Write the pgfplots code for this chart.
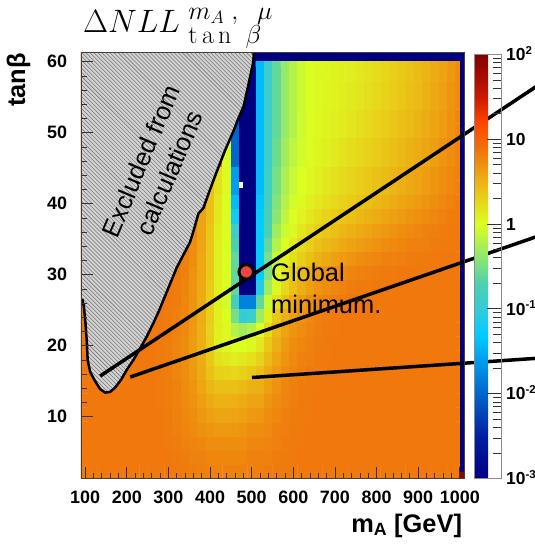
\documentclass[border=0pt]{standalone}
\usepackage{fix-cm}
\usepackage[no-math]{fontspec}
\usepackage{pgfplots}
\pgfplotsset{compat=1.18}
\usetikzlibrary{patterns.meta}
\newfontfamily\lsans{Liberation Sans}
\DeclareMathSizes{32.5}{32.5}{24}{19}
\DeclareMathSizes{26}{26}{18}{14}
\newcommand\tickfont{\lsans\bfseries\fontsize{18}{19}\selectfont}
\newcommand\cbfont{\lsans\bfseries\fontsize{17.5}{18}\selectfont}
\newcommand\cbexp[1]{10\raisebox{6.5bp}{\fontsize{11.5}{12}\selectfont#1}}
\newcommand\labfont{\lsans\bfseries\fontsize{25.5}{27}\selectfont}
\newcommand\annfont{\lsans\fontsize{25.5}{31}\selectfont}
\definecolor{navy}{rgb}{0,0,0.5}
\definecolor{dotred}{rgb}{0.93,0.27,0.25}
\definecolor{hatchgray}{rgb}{0.83,0.83,0.83}
\definecolor{cornerred}{rgb}{0.55,0.02,0.02}
\pgfplotsset{colormap={nllmap}{rgb(0pt)=(0,0,0.5); rgb(10pt)=(0,0.12,0.64); rgb(20pt)=(0,0.4,0.8); rgb(28pt)=(0,0.62,0.93); rgb(34pt)=(0,0.8,1); rgb(40pt)=(0.2,0.8,0.85); rgb(46pt)=(0.3,0.82,0.68); rgb(52pt)=(0.55,0.9,0.45); rgb(60pt)=(0.86,1,0.13); rgb(66pt)=(0.91,0.82,0.1); rgb(72pt)=(0.93,0.64,0.07); rgb(77pt)=(0.94,0.47,0.05); rgb(84pt)=(1,0.27,0); rgb(90pt)=(0.8,0.1,0); rgb(100pt)=(0.5,0,0)}}
\begin{document}
\begin{tikzpicture}
\useasboundingbox (-81bp,-70.5bp) rectangle (454bp,478.5bp);
\begin{axis}[
  scale only axis, width=383bp, height=426bp,
  xmin=90, xmax=1010, ymin=1.3, ymax=61.3,
  clip=false, axis on top,
  colormap name=nllmap, point meta min=-3, point meta max=2,
  xtick={100,200,300,400,500,600,700,800,900,1000},
  xticklabels={100,200,300,400,500,600,700,800,900,1000},
  ytick={10,20,30,40,50,60}, yticklabels={10,20,30,40,50,60},
  minor x tick num=4, minor y tick num=4,
  xtick pos=left, ytick pos=left, scaled ticks=false,
  tick align=inside, major tick length=12bp, minor tick length=6bp,
  tick style={black!80, line width=0.8bp},
  axis line style={black!75, line width=0.8bp},
  tick label style={font=\tickfont},
  xticklabel style={anchor=base, inner sep=0pt, yshift=-24.5bp},
  yticklabel style={anchor=east, inner sep=0pt, xshift=-13.8bp},
  xlabel={m\textsubscript{A} [GeV]}, ylabel={tanβ},
  xlabel style={font=\labfont, at={(axis description cs:0.9953,-0.1256)}, anchor=base east, inner sep=0pt},
  ylabel style={font=\labfont, at={(axis description cs:-0.1457,0.9988)}, anchor=base east, inner sep=0pt},
  colorbar right,
  colorbar style={
    at={(parent axis.north east)}, anchor=north west, xshift=1.5bp, yshift=-2bp,
    scale only axis, width=27bp, height=424bp,
    title={}, xlabel={}, ylabel={},
    xtick=\empty, minor x tick num=0, minor y tick num=0,
    ytick={-3,-2,-1,0,1,2},
    yticklabels={\cbexp{-3},\cbexp{-2},\cbexp{-1},1,10,\cbexp{2}},
    minor ytick={-2.699,-2.523,-2.398,-2.301,-2.222,-2.155,-2.097,-2.046,-1.699,-1.523,-1.398,-1.301,-1.222,-1.155,-1.097,-1.046,-0.699,-0.523,-0.398,-0.301,-0.222,-0.155,-0.097,-0.046,0.301,0.477,0.602,0.699,0.778,0.845,0.903,0.954,1.301,1.477,1.602,1.699,1.778,1.845,1.903,1.954},
    ytick pos=right, yticklabel pos=right,
    tick align=inside, major tick length=14bp, minor tick length=8bp,
    every y tick label/.style={font=\cbfont, anchor=base west, inner sep=0pt, xshift=5bp, yshift=-6.3bp},
    axis line style={black!45, line width=0.6bp},
  },
]
% log10 of Delta NLL on a 20 GeV x 2 grid
\addplot[matrix plot*, mesh/cols=46, point meta=explicit] table[row sep=\\, x=x, y=y, meta=f] {
x y f\\
100 2.3 0.85\\120 2.3 0.85\\140 2.3 0.85\\160 2.3 0.85\\180 2.3 0.85\\200 2.3 0.85\\220 2.3 0.85\\240 2.3 0.85\\260 2.3 0.85\\280 2.3 0.85\\300 2.3 0.85\\320 2.3 0.84\\340 2.3 0.83\\360 2.3 0.82\\380 2.3 0.81\\400 2.3 0.8\\420 2.3 0.79\\440 2.3 0.79\\460 2.3 0.79\\480 2.3 0.8\\500 2.3 0.81\\520 2.3 0.81\\540 2.3 0.82\\560 2.3 0.83\\580 2.3 0.84\\600 2.3 0.85\\620 2.3 0.85\\640 2.3 0.85\\660 2.3 0.85\\680 2.3 0.85\\700 2.3 0.85\\720 2.3 0.85\\740 2.3 0.85\\760 2.3 0.85\\780 2.3 0.85\\800 2.3 0.85\\820 2.3 0.85\\840 2.3 0.85\\860 2.3 0.85\\880 2.3 0.85\\900 2.3 0.85\\920 2.3 0.85\\940 2.3 0.85\\960 2.3 0.85\\980 2.3 0.85\\1000 2.3 0.85\\
100 4.3 0.85\\120 4.3 0.85\\140 4.3 0.85\\160 4.3 0.85\\180 4.3 0.85\\200 4.3 0.85\\220 4.3 0.85\\240 4.3 0.85\\260 4.3 0.85\\280 4.3 0.85\\300 4.3 0.85\\320 4.3 0.83\\340 4.3 0.82\\360 4.3 0.8\\380 4.3 0.79\\400 4.3 0.77\\420 4.3 0.76\\440 4.3 0.76\\460 4.3 0.76\\480 4.3 0.77\\500 4.3 0.79\\520 4.3 0.79\\540 4.3 0.8\\560 4.3 0.82\\580 4.3 0.83\\600 4.3 0.84\\620 4.3 0.85\\640 4.3 0.85\\660 4.3 0.85\\680 4.3 0.85\\700 4.3 0.85\\720 4.3 0.85\\740 4.3 0.85\\760 4.3 0.85\\780 4.3 0.85\\800 4.3 0.85\\820 4.3 0.85\\840 4.3 0.85\\860 4.3 0.85\\880 4.3 0.85\\900 4.3 0.85\\920 4.3 0.85\\940 4.3 0.85\\960 4.3 0.85\\980 4.3 0.85\\1000 4.3 0.85\\
100 6.3 0.85\\120 6.3 0.85\\140 6.3 0.85\\160 6.3 0.85\\180 6.3 0.85\\200 6.3 0.85\\220 6.3 0.85\\240 6.3 0.85\\260 6.3 0.85\\280 6.3 0.85\\300 6.3 0.84\\320 6.3 0.82\\340 6.3 0.8\\360 6.3 0.78\\380 6.3 0.76\\400 6.3 0.73\\420 6.3 0.72\\440 6.3 0.72\\460 6.3 0.72\\480 6.3 0.73\\500 6.3 0.76\\520 6.3 0.76\\540 6.3 0.78\\560 6.3 0.8\\580 6.3 0.82\\600 6.3 0.83\\620 6.3 0.84\\640 6.3 0.85\\660 6.3 0.85\\680 6.3 0.85\\700 6.3 0.85\\720 6.3 0.85\\740 6.3 0.85\\760 6.3 0.85\\780 6.3 0.85\\800 6.3 0.85\\820 6.3 0.85\\840 6.3 0.85\\860 6.3 0.85\\880 6.3 0.85\\900 6.3 0.85\\920 6.3 0.85\\940 6.3 0.85\\960 6.3 0.85\\980 6.3 0.85\\1000 6.3 0.85\\
100 8.3 0.85\\120 8.3 0.85\\140 8.3 0.85\\160 8.3 0.85\\180 8.3 0.85\\200 8.3 0.85\\220 8.3 0.85\\240 8.3 0.85\\260 8.3 0.85\\280 8.3 0.85\\300 8.3 0.83\\320 8.3 0.81\\340 8.3 0.78\\360 8.3 0.75\\380 8.3 0.71\\400 8.3 0.68\\420 8.3 0.66\\440 8.3 0.66\\460 8.3 0.67\\480 8.3 0.68\\500 8.3 0.72\\520 8.3 0.72\\540 8.3 0.75\\560 8.3 0.79\\580 8.3 0.81\\600 8.3 0.83\\620 8.3 0.84\\640 8.3 0.85\\660 8.3 0.85\\680 8.3 0.85\\700 8.3 0.85\\720 8.3 0.85\\740 8.3 0.85\\760 8.3 0.85\\780 8.3 0.85\\800 8.3 0.85\\820 8.3 0.85\\840 8.3 0.85\\860 8.3 0.85\\880 8.3 0.85\\900 8.3 0.85\\920 8.3 0.85\\940 8.3 0.85\\960 8.3 0.85\\980 8.3 0.85\\1000 8.3 0.85\\
100 10.3 0.85\\120 10.3 0.85\\140 10.3 0.85\\160 10.3 0.85\\180 10.3 0.85\\200 10.3 0.85\\220 10.3 0.85\\240 10.3 0.85\\260 10.3 0.85\\280 10.3 0.85\\300 10.3 0.83\\320 10.3 0.8\\340 10.3 0.76\\360 10.3 0.72\\380 10.3 0.67\\400 10.3 0.62\\420 10.3 0.59\\440 10.3 0.59\\460 10.3 0.6\\480 10.3 0.62\\500 10.3 0.66\\520 10.3 0.67\\540 10.3 0.72\\560 10.3 0.77\\580 10.3 0.8\\600 10.3 0.82\\620 10.3 0.83\\640 10.3 0.84\\660 10.3 0.85\\680 10.3 0.85\\700 10.3 0.85\\720 10.3 0.85\\740 10.3 0.85\\760 10.3 0.85\\780 10.3 0.85\\800 10.3 0.85\\820 10.3 0.85\\840 10.3 0.85\\860 10.3 0.85\\880 10.3 0.85\\900 10.3 0.85\\920 10.3 0.85\\940 10.3 0.85\\960 10.3 0.85\\980 10.3 0.85\\1000 10.3 0.85\\
100 12.3 0.85\\120 12.3 0.85\\140 12.3 0.85\\160 12.3 0.85\\180 12.3 0.85\\200 12.3 0.85\\220 12.3 0.85\\240 12.3 0.85\\260 12.3 0.85\\280 12.3 0.84\\300 12.3 0.82\\320 12.3 0.79\\340 12.3 0.75\\360 12.3 0.7\\380 12.3 0.63\\400 12.3 0.55\\420 12.3 0.51\\440 12.3 0.51\\460 12.3 0.52\\480 12.3 0.55\\500 12.3 0.6\\520 12.3 0.6\\540 12.3 0.68\\560 12.3 0.74\\580 12.3 0.78\\600 12.3 0.81\\620 12.3 0.83\\640 12.3 0.84\\660 12.3 0.85\\680 12.3 0.85\\700 12.3 0.85\\720 12.3 0.85\\740 12.3 0.85\\760 12.3 0.85\\780 12.3 0.85\\800 12.3 0.85\\820 12.3 0.85\\840 12.3 0.85\\860 12.3 0.85\\880 12.3 0.85\\900 12.3 0.85\\920 12.3 0.85\\940 12.3 0.85\\960 12.3 0.85\\980 12.3 0.85\\1000 12.3 0.85\\
100 14.3 0.85\\120 14.3 0.85\\140 14.3 0.85\\160 14.3 0.85\\180 14.3 0.85\\200 14.3 0.85\\220 14.3 0.85\\240 14.3 0.85\\260 14.3 0.85\\280 14.3 0.84\\300 14.3 0.82\\320 14.3 0.79\\340 14.3 0.74\\360 14.3 0.68\\380 14.3 0.58\\400 14.3 0.47\\420 14.3 0.41\\440 14.3 0.41\\460 14.3 0.42\\480 14.3 0.45\\500 14.3 0.5\\520 14.3 0.52\\540 14.3 0.62\\560 14.3 0.7\\580 14.3 0.76\\600 14.3 0.8\\620 14.3 0.82\\640 14.3 0.83\\660 14.3 0.84\\680 14.3 0.85\\700 14.3 0.85\\720 14.3 0.85\\740 14.3 0.85\\760 14.3 0.85\\780 14.3 0.85\\800 14.3 0.85\\820 14.3 0.85\\840 14.3 0.85\\860 14.3 0.85\\880 14.3 0.85\\900 14.3 0.85\\920 14.3 0.85\\940 14.3 0.85\\960 14.3 0.85\\980 14.3 0.85\\1000 14.3 0.85\\
100 16.3 0.85\\120 16.3 0.85\\140 16.3 0.85\\160 16.3 0.85\\180 16.3 0.85\\200 16.3 0.85\\220 16.3 0.85\\240 16.3 0.85\\260 16.3 0.85\\280 16.3 0.84\\300 16.3 0.82\\320 16.3 0.78\\340 16.3 0.73\\360 16.3 0.66\\380 16.3 0.55\\400 16.3 0.4\\420 16.3 0.3\\440 16.3 0.28\\460 16.3 0.27\\480 16.3 0.3\\500 16.3 0.35\\520 16.3 0.42\\540 16.3 0.55\\560 16.3 0.65\\580 16.3 0.73\\600 16.3 0.78\\620 16.3 0.81\\640 16.3 0.83\\660 16.3 0.84\\680 16.3 0.85\\700 16.3 0.85\\720 16.3 0.85\\740 16.3 0.85\\760 16.3 0.85\\780 16.3 0.85\\800 16.3 0.85\\820 16.3 0.85\\840 16.3 0.85\\860 16.3 0.85\\880 16.3 0.85\\900 16.3 0.85\\920 16.3 0.85\\940 16.3 0.85\\960 16.3 0.85\\980 16.3 0.85\\1000 16.3 0.85\\
100 18.3 0.85\\120 18.3 0.85\\140 18.3 0.85\\160 18.3 0.85\\180 18.3 0.85\\200 18.3 0.85\\220 18.3 0.85\\240 18.3 0.85\\260 18.3 0.85\\280 18.3 0.84\\300 18.3 0.82\\320 18.3 0.78\\340 18.3 0.72\\360 18.3 0.65\\380 18.3 0.54\\400 18.3 0.35\\420 18.3 0.2\\440 18.3 0.15\\460 18.3 0.12\\480 18.3 0.15\\500 18.3 0.2\\520 18.3 0.3\\540 18.3 0.45\\560 18.3 0.58\\580 18.3 0.68\\600 18.3 0.75\\620 18.3 0.79\\640 18.3 0.81\\660 18.3 0.83\\680 18.3 0.84\\700 18.3 0.85\\720 18.3 0.85\\740 18.3 0.85\\760 18.3 0.85\\780 18.3 0.85\\800 18.3 0.85\\820 18.3 0.85\\840 18.3 0.85\\860 18.3 0.85\\880 18.3 0.85\\900 18.3 0.85\\920 18.3 0.85\\940 18.3 0.85\\960 18.3 0.85\\980 18.3 0.85\\1000 18.3 0.85\\
100 20.3 0.85\\120 20.3 0.85\\140 20.3 0.85\\160 20.3 0.85\\180 20.3 0.85\\200 20.3 0.85\\220 20.3 0.85\\240 20.3 0.85\\260 20.3 0.85\\280 20.3 0.84\\300 20.3 0.82\\320 20.3 0.78\\340 20.3 0.72\\360 20.3 0.64\\380 20.3 0.52\\400 20.3 0.32\\420 20.3 0.1\\440 20.3 0.05\\460 20.3 0\\480 20.3 0\\500 20.3 0.05\\520 20.3 0.15\\540 20.3 0.35\\560 20.3 0.52\\580 20.3 0.64\\600 20.3 0.72\\620 20.3 0.77\\640 20.3 0.8\\660 20.3 0.82\\680 20.3 0.84\\700 20.3 0.85\\720 20.3 0.85\\740 20.3 0.85\\760 20.3 0.85\\780 20.3 0.85\\800 20.3 0.85\\820 20.3 0.85\\840 20.3 0.85\\860 20.3 0.85\\880 20.3 0.85\\900 20.3 0.85\\920 20.3 0.85\\940 20.3 0.85\\960 20.3 0.85\\980 20.3 0.85\\1000 20.3 0.85\\
100 22.3 0.85\\120 22.3 0.85\\140 22.3 0.85\\160 22.3 0.85\\180 22.3 0.85\\200 22.3 0.85\\220 22.3 0.85\\240 22.3 0.85\\260 22.3 0.85\\280 22.3 0.85\\300 22.3 0.83\\320 22.3 0.8\\340 22.3 0.75\\360 22.3 0.66\\380 22.3 0.52\\400 22.3 0.3\\420 22.3 0.1\\440 22.3 0.05\\460 22.3 -0.2\\480 22.3 -0.3\\500 22.3 -0.2\\520 22.3 0\\540 22.3 0.25\\560 22.3 0.45\\580 22.3 0.6\\600 22.3 0.68\\620 22.3 0.74\\640 22.3 0.78\\660 22.3 0.81\\680 22.3 0.83\\700 22.3 0.84\\720 22.3 0.85\\740 22.3 0.85\\760 22.3 0.85\\780 22.3 0.85\\800 22.3 0.85\\820 22.3 0.85\\840 22.3 0.85\\860 22.3 0.85\\880 22.3 0.85\\900 22.3 0.85\\920 22.3 0.85\\940 22.3 0.85\\960 22.3 0.85\\980 22.3 0.85\\1000 22.3 0.85\\
100 24.3 0.85\\120 24.3 0.85\\140 24.3 0.85\\160 24.3 0.85\\180 24.3 0.85\\200 24.3 0.85\\220 24.3 0.85\\240 24.3 0.85\\260 24.3 0.85\\280 24.3 0.85\\300 24.3 0.84\\320 24.3 0.81\\340 24.3 0.76\\360 24.3 0.67\\380 24.3 0.53\\400 24.3 0.32\\420 24.3 0.1\\440 24.3 0\\460 24.3 -0.5\\480 24.3 -1\\500 24.3 -0.9\\520 24.3 -0.3\\540 24.3 0.1\\560 24.3 0.35\\580 24.3 0.52\\600 24.3 0.63\\620 24.3 0.7\\640 24.3 0.75\\660 24.3 0.79\\680 24.3 0.82\\700 24.3 0.84\\720 24.3 0.85\\740 24.3 0.85\\760 24.3 0.85\\780 24.3 0.85\\800 24.3 0.85\\820 24.3 0.85\\840 24.3 0.85\\860 24.3 0.85\\880 24.3 0.85\\900 24.3 0.85\\920 24.3 0.85\\940 24.3 0.85\\960 24.3 0.85\\980 24.3 0.85\\1000 24.3 0.85\\
100 26.3 0.85\\120 26.3 0.85\\140 26.3 0.85\\160 26.3 0.85\\180 26.3 0.85\\200 26.3 0.85\\220 26.3 0.85\\240 26.3 0.85\\260 26.3 0.85\\280 26.3 0.85\\300 26.3 0.85\\320 26.3 0.82\\340 26.3 0.77\\360 26.3 0.68\\380 26.3 0.54\\400 26.3 0.33\\420 26.3 0.1\\440 26.3 -0.05\\460 26.3 -0.8\\480 26.3 -1.8\\500 26.3 -1.8\\520 26.3 -0.6\\540 26.3 -0.1\\560 26.3 0.2\\580 26.3 0.4\\600 26.3 0.55\\620 26.3 0.65\\640 26.3 0.72\\660 26.3 0.77\\680 26.3 0.8\\700 26.3 0.82\\720 26.3 0.84\\740 26.3 0.85\\760 26.3 0.85\\780 26.3 0.85\\800 26.3 0.85\\820 26.3 0.85\\840 26.3 0.85\\860 26.3 0.85\\880 26.3 0.85\\900 26.3 0.85\\920 26.3 0.85\\940 26.3 0.85\\960 26.3 0.85\\980 26.3 0.85\\1000 26.3 0.85\\
100 28.3 0.85\\120 28.3 0.85\\140 28.3 0.85\\160 28.3 0.85\\180 28.3 0.85\\200 28.3 0.85\\220 28.3 0.85\\240 28.3 0.85\\260 28.3 0.85\\280 28.3 0.85\\300 28.3 0.85\\320 28.3 0.82\\340 28.3 0.78\\360 28.3 0.69\\380 28.3 0.55\\400 28.3 0.34\\420 28.3 0.1\\440 28.3 0\\460 28.3 -0.6\\480 28.3 -3\\500 28.3 -3\\520 28.3 -1.1\\540 28.3 -0.3\\560 28.3 0.05\\580 28.3 0.25\\600 28.3 0.4\\620 28.3 0.52\\640 28.3 0.62\\660 28.3 0.69\\680 28.3 0.73\\700 28.3 0.77\\720 28.3 0.8\\740 28.3 0.82\\760 28.3 0.83\\780 28.3 0.84\\800 28.3 0.85\\820 28.3 0.85\\840 28.3 0.85\\860 28.3 0.85\\880 28.3 0.85\\900 28.3 0.85\\920 28.3 0.85\\940 28.3 0.85\\960 28.3 0.85\\980 28.3 0.85\\1000 28.3 0.85\\
100 30.3 0.85\\120 30.3 0.85\\140 30.3 0.85\\160 30.3 0.85\\180 30.3 0.85\\200 30.3 0.85\\220 30.3 0.85\\240 30.3 0.85\\260 30.3 0.85\\280 30.3 0.85\\300 30.3 0.85\\320 30.3 0.83\\340 30.3 0.79\\360 30.3 0.7\\380 30.3 0.56\\400 30.3 0.35\\420 30.3 0.1\\440 30.3 0\\460 30.3 -0.6\\480 30.3 -3\\500 30.3 -3\\520 30.3 -1.3\\540 30.3 -0.45\\560 30.3 0\\580 30.3 0.15\\600 30.3 0.3\\620 30.3 0.44\\640 30.3 0.55\\660 30.3 0.63\\680 30.3 0.68\\700 30.3 0.72\\720 30.3 0.75\\740 30.3 0.78\\760 30.3 0.8\\780 30.3 0.81\\800 30.3 0.82\\820 30.3 0.83\\840 30.3 0.84\\860 30.3 0.85\\880 30.3 0.85\\900 30.3 0.85\\920 30.3 0.85\\940 30.3 0.85\\960 30.3 0.85\\980 30.3 0.85\\1000 30.3 0.85\\
100 32.3 0.85\\120 32.3 0.85\\140 32.3 0.85\\160 32.3 0.85\\180 32.3 0.85\\200 32.3 0.85\\220 32.3 0.85\\240 32.3 0.85\\260 32.3 0.85\\280 32.3 0.85\\300 32.3 0.85\\320 32.3 0.85\\340 32.3 0.8\\360 32.3 0.72\\380 32.3 0.57\\400 32.3 0.36\\420 32.3 0.1\\440 32.3 0\\460 32.3 -0.6\\480 32.3 -3\\500 32.3 -3\\520 32.3 -1.3\\540 32.3 -0.5\\560 32.3 -0.1\\580 32.3 0.08\\600 32.3 0.2\\620 32.3 0.32\\640 32.3 0.42\\660 32.3 0.5\\680 32.3 0.56\\700 32.3 0.61\\720 32.3 0.65\\740 32.3 0.69\\760 32.3 0.72\\780 32.3 0.75\\800 32.3 0.77\\820 32.3 0.79\\840 32.3 0.8\\860 32.3 0.81\\880 32.3 0.82\\900 32.3 0.83\\920 32.3 0.84\\940 32.3 0.84\\960 32.3 0.85\\980 32.3 0.85\\1000 32.3 0.85\\
100 34.3 0.85\\120 34.3 0.85\\140 34.3 0.85\\160 34.3 0.85\\180 34.3 0.85\\200 34.3 0.85\\220 34.3 0.85\\240 34.3 0.85\\260 34.3 0.85\\280 34.3 0.85\\300 34.3 0.85\\320 34.3 0.85\\340 34.3 0.85\\360 34.3 0.73\\380 34.3 0.58\\400 34.3 0.37\\420 34.3 0.1\\440 34.3 0\\460 34.3 -0.7\\480 34.3 -3\\500 34.3 -3\\520 34.3 -1.3\\540 34.3 -0.6\\560 34.3 -0.2\\580 34.3 0\\600 34.3 0.12\\620 34.3 0.24\\640 34.3 0.33\\660 34.3 0.4\\680 34.3 0.46\\700 34.3 0.51\\720 34.3 0.56\\740 34.3 0.6\\760 34.3 0.64\\780 34.3 0.67\\800 34.3 0.7\\820 34.3 0.73\\840 34.3 0.75\\860 34.3 0.77\\880 34.3 0.79\\900 34.3 0.8\\920 34.3 0.81\\940 34.3 0.82\\960 34.3 0.83\\980 34.3 0.84\\1000 34.3 0.85\\
100 36.3 0.85\\120 36.3 0.85\\140 36.3 0.85\\160 36.3 0.85\\180 36.3 0.85\\200 36.3 0.85\\220 36.3 0.85\\240 36.3 0.85\\260 36.3 0.85\\280 36.3 0.85\\300 36.3 0.85\\320 36.3 0.85\\340 36.3 0.85\\360 36.3 0.74\\380 36.3 0.6\\400 36.3 0.38\\420 36.3 0.12\\440 36.3 0\\460 36.3 -0.9\\480 36.3 -3\\500 36.3 -3\\520 36.3 -1.3\\540 36.3 -0.7\\560 36.3 -0.3\\580 36.3 -0.08\\600 36.3 0.05\\620 36.3 0.15\\640 36.3 0.24\\660 36.3 0.31\\680 36.3 0.37\\700 36.3 0.42\\720 36.3 0.47\\740 36.3 0.51\\760 36.3 0.55\\780 36.3 0.59\\800 36.3 0.63\\820 36.3 0.66\\840 36.3 0.69\\860 36.3 0.72\\880 36.3 0.75\\900 36.3 0.77\\920 36.3 0.79\\940 36.3 0.81\\960 36.3 0.82\\980 36.3 0.83\\1000 36.3 0.84\\
100 38.3 0.85\\120 38.3 0.85\\140 38.3 0.85\\160 38.3 0.85\\180 38.3 0.85\\200 38.3 0.85\\220 38.3 0.85\\240 38.3 0.85\\260 38.3 0.85\\280 38.3 0.85\\300 38.3 0.85\\320 38.3 0.85\\340 38.3 0.85\\360 38.3 0.85\\380 38.3 0.6\\400 38.3 0.4\\420 38.3 0.15\\440 38.3 0\\460 38.3 -1.2\\480 38.3 -3\\500 38.3 -3\\520 38.3 -1.3\\540 38.3 -0.75\\560 38.3 -0.4\\580 38.3 -0.15\\600 38.3 0\\620 38.3 0.08\\640 38.3 0.15\\660 38.3 0.22\\680 38.3 0.28\\700 38.3 0.33\\720 38.3 0.38\\740 38.3 0.42\\760 38.3 0.46\\780 38.3 0.5\\800 38.3 0.54\\820 38.3 0.58\\840 38.3 0.62\\860 38.3 0.65\\880 38.3 0.68\\900 38.3 0.71\\920 38.3 0.74\\940 38.3 0.77\\960 38.3 0.8\\980 38.3 0.82\\1000 38.3 0.83\\
100 40.3 0.85\\120 40.3 0.85\\140 40.3 0.85\\160 40.3 0.85\\180 40.3 0.85\\200 40.3 0.85\\220 40.3 0.85\\240 40.3 0.85\\260 40.3 0.85\\280 40.3 0.85\\300 40.3 0.85\\320 40.3 0.85\\340 40.3 0.85\\360 40.3 0.85\\380 40.3 0.85\\400 40.3 0.4\\420 40.3 0.15\\440 40.3 0\\460 40.3 -1.4\\480 40.3 -3\\500 40.3 -3\\520 40.3 -1.35\\540 40.3 -0.8\\560 40.3 -0.45\\580 40.3 -0.2\\600 40.3 -0.05\\620 40.3 0.03\\640 40.3 0.1\\660 40.3 0.15\\680 40.3 0.2\\700 40.3 0.25\\720 40.3 0.3\\740 40.3 0.34\\760 40.3 0.38\\780 40.3 0.42\\800 40.3 0.46\\820 40.3 0.5\\840 40.3 0.54\\860 40.3 0.58\\880 40.3 0.62\\900 40.3 0.65\\920 40.3 0.68\\940 40.3 0.72\\960 40.3 0.76\\980 40.3 0.8\\1000 40.3 0.82\\
100 42.3 0.85\\120 42.3 0.85\\140 42.3 0.85\\160 42.3 0.85\\180 42.3 0.85\\200 42.3 0.85\\220 42.3 0.85\\240 42.3 0.85\\260 42.3 0.85\\280 42.3 0.85\\300 42.3 0.85\\320 42.3 0.85\\340 42.3 0.85\\360 42.3 0.85\\380 42.3 0.85\\400 42.3 0.4\\420 42.3 0.2\\440 42.3 0.02\\460 42.3 -1.6\\480 42.3 -3\\500 42.3 -3\\520 42.3 -1.4\\540 42.3 -0.85\\560 42.3 -0.5\\580 42.3 -0.25\\600 42.3 -0.1\\620 42.3 0\\640 42.3 0.05\\660 42.3 0.1\\680 42.3 0.15\\700 42.3 0.2\\720 42.3 0.24\\740 42.3 0.28\\760 42.3 0.32\\780 42.3 0.36\\800 42.3 0.4\\820 42.3 0.44\\840 42.3 0.48\\860 42.3 0.52\\880 42.3 0.56\\900 42.3 0.6\\920 42.3 0.64\\940 42.3 0.68\\960 42.3 0.72\\980 42.3 0.76\\1000 42.3 0.8\\
100 44.3 0.85\\120 44.3 0.85\\140 44.3 0.85\\160 44.3 0.85\\180 44.3 0.85\\200 44.3 0.85\\220 44.3 0.85\\240 44.3 0.85\\260 44.3 0.85\\280 44.3 0.85\\300 44.3 0.85\\320 44.3 0.85\\340 44.3 0.85\\360 44.3 0.85\\380 44.3 0.85\\400 44.3 0.85\\420 44.3 0.2\\440 44.3 0.02\\460 44.3 -1.6\\480 44.3 -3\\500 44.3 -3\\520 44.3 -1.4\\540 44.3 -0.85\\560 44.3 -0.5\\580 44.3 -0.25\\600 44.3 -0.1\\620 44.3 0\\640 44.3 0.05\\660 44.3 0.1\\680 44.3 0.15\\700 44.3 0.2\\720 44.3 0.24\\740 44.3 0.28\\760 44.3 0.32\\780 44.3 0.36\\800 44.3 0.4\\820 44.3 0.44\\840 44.3 0.48\\860 44.3 0.52\\880 44.3 0.56\\900 44.3 0.6\\920 44.3 0.64\\940 44.3 0.68\\960 44.3 0.72\\980 44.3 0.76\\1000 44.3 0.8\\
100 46.3 0.85\\120 46.3 0.85\\140 46.3 0.85\\160 46.3 0.85\\180 46.3 0.85\\200 46.3 0.85\\220 46.3 0.85\\240 46.3 0.85\\260 46.3 0.85\\280 46.3 0.85\\300 46.3 0.85\\320 46.3 0.85\\340 46.3 0.85\\360 46.3 0.85\\380 46.3 0.85\\400 46.3 0.85\\420 46.3 0.85\\440 46.3 0\\460 46.3 -2\\480 46.3 -3\\500 46.3 -3\\520 46.3 -1.4\\540 46.3 -0.9\\560 46.3 -0.55\\580 46.3 -0.3\\600 46.3 -0.15\\620 46.3 -0.05\\640 46.3 0.02\\660 46.3 0.06\\680 46.3 0.1\\700 46.3 0.14\\720 46.3 0.18\\740 46.3 0.22\\760 46.3 0.26\\780 46.3 0.3\\800 46.3 0.34\\820 46.3 0.38\\840 46.3 0.42\\860 46.3 0.46\\880 46.3 0.5\\900 46.3 0.54\\920 46.3 0.58\\940 46.3 0.63\\960 46.3 0.68\\980 46.3 0.73\\1000 46.3 0.78\\
100 48.3 0.85\\120 48.3 0.85\\140 48.3 0.85\\160 48.3 0.85\\180 48.3 0.85\\200 48.3 0.85\\220 48.3 0.85\\240 48.3 0.85\\260 48.3 0.85\\280 48.3 0.85\\300 48.3 0.85\\320 48.3 0.85\\340 48.3 0.85\\360 48.3 0.85\\380 48.3 0.85\\400 48.3 0.85\\420 48.3 0.85\\440 48.3 0\\460 48.3 -2\\480 48.3 -3\\500 48.3 -3\\520 48.3 -1.4\\540 48.3 -0.9\\560 48.3 -0.55\\580 48.3 -0.3\\600 48.3 -0.15\\620 48.3 -0.05\\640 48.3 0.02\\660 48.3 0.06\\680 48.3 0.1\\700 48.3 0.14\\720 48.3 0.18\\740 48.3 0.22\\760 48.3 0.26\\780 48.3 0.3\\800 48.3 0.34\\820 48.3 0.38\\840 48.3 0.42\\860 48.3 0.46\\880 48.3 0.5\\900 48.3 0.54\\920 48.3 0.58\\940 48.3 0.63\\960 48.3 0.68\\980 48.3 0.73\\1000 48.3 0.78\\
100 50.3 0.85\\120 50.3 0.85\\140 50.3 0.85\\160 50.3 0.85\\180 50.3 0.85\\200 50.3 0.85\\220 50.3 0.85\\240 50.3 0.85\\260 50.3 0.85\\280 50.3 0.85\\300 50.3 0.85\\320 50.3 0.85\\340 50.3 0.85\\360 50.3 0.85\\380 50.3 0.85\\400 50.3 0.85\\420 50.3 0.85\\440 50.3 0\\460 50.3 -2\\480 50.3 -3\\500 50.3 -3\\520 50.3 -1.4\\540 50.3 -0.9\\560 50.3 -0.6\\580 50.3 -0.35\\600 50.3 -0.2\\620 50.3 -0.07\\640 50.3 0.01\\660 50.3 0.04\\680 50.3 0.07\\700 50.3 0.1\\720 50.3 0.13\\740 50.3 0.17\\760 50.3 0.21\\780 50.3 0.25\\800 50.3 0.29\\820 50.3 0.33\\840 50.3 0.37\\860 50.3 0.41\\880 50.3 0.45\\900 50.3 0.49\\920 50.3 0.54\\940 50.3 0.59\\960 50.3 0.64\\980 50.3 0.7\\1000 50.3 0.76\\
100 52.3 0.85\\120 52.3 0.85\\140 52.3 0.85\\160 52.3 0.85\\180 52.3 0.85\\200 52.3 0.85\\220 52.3 0.85\\240 52.3 0.85\\260 52.3 0.85\\280 52.3 0.85\\300 52.3 0.85\\320 52.3 0.85\\340 52.3 0.85\\360 52.3 0.85\\380 52.3 0.85\\400 52.3 0.85\\420 52.3 0.85\\440 52.3 0\\460 52.3 -2\\480 52.3 -3\\500 52.3 -3\\520 52.3 -1.4\\540 52.3 -0.9\\560 52.3 -0.6\\580 52.3 -0.35\\600 52.3 -0.2\\620 52.3 -0.07\\640 52.3 0.01\\660 52.3 0.04\\680 52.3 0.07\\700 52.3 0.1\\720 52.3 0.13\\740 52.3 0.17\\760 52.3 0.21\\780 52.3 0.25\\800 52.3 0.29\\820 52.3 0.33\\840 52.3 0.37\\860 52.3 0.41\\880 52.3 0.45\\900 52.3 0.49\\920 52.3 0.54\\940 52.3 0.59\\960 52.3 0.64\\980 52.3 0.7\\1000 52.3 0.76\\
100 54.3 0.85\\120 54.3 0.85\\140 54.3 0.85\\160 54.3 0.85\\180 54.3 0.85\\200 54.3 0.85\\220 54.3 0.85\\240 54.3 0.85\\260 54.3 0.85\\280 54.3 0.85\\300 54.3 0.85\\320 54.3 0.85\\340 54.3 0.85\\360 54.3 0.85\\380 54.3 0.85\\400 54.3 0.85\\420 54.3 0.85\\440 54.3 0\\460 54.3 -2\\480 54.3 -3\\500 54.3 -3\\520 54.3 -1.4\\540 54.3 -0.9\\560 54.3 -0.6\\580 54.3 -0.35\\600 54.3 -0.2\\620 54.3 -0.08\\640 54.3 0\\660 54.3 0.03\\680 54.3 0.06\\700 54.3 0.08\\720 54.3 0.11\\740 54.3 0.14\\760 54.3 0.17\\780 54.3 0.21\\800 54.3 0.25\\820 54.3 0.29\\840 54.3 0.33\\860 54.3 0.37\\880 54.3 0.41\\900 54.3 0.45\\920 54.3 0.5\\940 54.3 0.56\\960 54.3 0.62\\980 54.3 0.68\\1000 54.3 0.74\\
100 56.3 0.85\\120 56.3 0.85\\140 56.3 0.85\\160 56.3 0.85\\180 56.3 0.85\\200 56.3 0.85\\220 56.3 0.85\\240 56.3 0.85\\260 56.3 0.85\\280 56.3 0.85\\300 56.3 0.85\\320 56.3 0.85\\340 56.3 0.85\\360 56.3 0.85\\380 56.3 0.85\\400 56.3 0.85\\420 56.3 0.85\\440 56.3 0\\460 56.3 -2\\480 56.3 -3\\500 56.3 -3\\520 56.3 -1.4\\540 56.3 -0.9\\560 56.3 -0.6\\580 56.3 -0.35\\600 56.3 -0.2\\620 56.3 -0.08\\640 56.3 0\\660 56.3 0.03\\680 56.3 0.06\\700 56.3 0.08\\720 56.3 0.11\\740 56.3 0.14\\760 56.3 0.17\\780 56.3 0.21\\800 56.3 0.25\\820 56.3 0.29\\840 56.3 0.33\\860 56.3 0.37\\880 56.3 0.41\\900 56.3 0.45\\920 56.3 0.5\\940 56.3 0.56\\960 56.3 0.62\\980 56.3 0.68\\1000 56.3 0.74\\
100 58.3 0.85\\120 58.3 0.85\\140 58.3 0.85\\160 58.3 0.85\\180 58.3 0.85\\200 58.3 0.85\\220 58.3 0.85\\240 58.3 0.85\\260 58.3 0.85\\280 58.3 0.85\\300 58.3 0.85\\320 58.3 0.85\\340 58.3 0.85\\360 58.3 0.85\\380 58.3 0.85\\400 58.3 0.85\\420 58.3 0.85\\440 58.3 0\\460 58.3 -2\\480 58.3 -3\\500 58.3 -3\\520 58.3 -1.4\\540 58.3 -0.9\\560 58.3 -0.6\\580 58.3 -0.35\\600 58.3 -0.2\\620 58.3 -0.08\\640 58.3 0\\660 58.3 0.03\\680 58.3 0.05\\700 58.3 0.07\\720 58.3 0.09\\740 58.3 0.12\\760 58.3 0.15\\780 58.3 0.19\\800 58.3 0.23\\820 58.3 0.27\\840 58.3 0.31\\860 58.3 0.35\\880 58.3 0.39\\900 58.3 0.43\\920 58.3 0.48\\940 58.3 0.54\\960 58.3 0.6\\980 58.3 0.66\\1000 58.3 0.72\\
100 60.3 0.85\\120 60.3 0.85\\140 60.3 0.85\\160 60.3 0.85\\180 60.3 0.85\\200 60.3 0.85\\220 60.3 0.85\\240 60.3 0.85\\260 60.3 0.85\\280 60.3 0.85\\300 60.3 0.85\\320 60.3 0.85\\340 60.3 0.85\\360 60.3 0.85\\380 60.3 0.85\\400 60.3 0.85\\420 60.3 0.85\\440 60.3 0\\460 60.3 -2\\480 60.3 -3\\500 60.3 -3\\520 60.3 -1.4\\540 60.3 -0.9\\560 60.3 -0.6\\580 60.3 -0.35\\600 60.3 -0.2\\620 60.3 -0.08\\640 60.3 0\\660 60.3 0.03\\680 60.3 0.05\\700 60.3 0.07\\720 60.3 0.09\\740 60.3 0.12\\760 60.3 0.15\\780 60.3 0.19\\800 60.3 0.23\\820 60.3 0.27\\840 60.3 0.31\\860 60.3 0.35\\880 60.3 0.39\\900 60.3 0.43\\920 60.3 0.48\\940 60.3 0.54\\960 60.3 0.6\\980 60.3 0.66\\1000 60.3 0.72\\
};
% empty bins: top row and last column
\addplot[fill=navy, draw=none] coordinates {(90,60.1) (1010,60.1) (1010,61.3) (90,61.3)} --cycle;
\addplot[fill=navy, draw=none] coordinates {(1000,1.3) (1010,1.3) (1010,61.3) (1000,61.3)} --cycle;
\addplot[fill=cornerred, draw=none] coordinates {(1000,1.3) (1010,1.3) (1010,2.2) (1000,2.2)} --cycle;
\addplot[fill=white, draw=none] coordinates {(470,42.2) (479,42.2) (479,43.1) (470,43.1)} --cycle;
% region excluded from the calculation
\addplot[draw=none, fill=hatchgray, postaction={pattern color=black!55, pattern={Lines[angle=-45,distance=2.85pt,line width=0.55pt]}}] coordinates {
(90,61.3) (505,61.3) (504,60) (493,57) (481,53.8) (468,52) (456,50.2) (436,47.5) (416,44.5) (400,42) (384,39.4) (372,38.6) (362,36.5) (352,34.6) (336,32.8) (320,31) (306,29) (292,27) (278,25) (264,23.2) (248,21.3) (232,19.6) (216,18) (200,16.6) (186,15.2) (172,14.1) (160,13.5) (148,13.4) (136,13.9) (124,15) (112,16.3) (106,18) (104,20.5) (101,23) (97,25.5) (93,26.6) (90,27)} --cycle;
\addplot[black, line width=2.5bp] coordinates {
(505,61.3) (504,60) (493,57) (481,53.8) (468,52) (456,50.2) (436,47.5) (416,44.5) (400,42) (384,39.4) (372,38.6) (362,36.5) (352,34.6) (336,32.8) (320,31) (306,29) (292,27) (278,25) (264,23.2) (248,21.3) (232,19.6) (216,18) (200,16.6) (186,15.2) (172,14.1) (160,13.5) (148,13.4) (136,13.9) (124,15) (112,16.3) (106,18) (104,20.5) (101,23) (97,25.5) (93,26.6)};
% guide lines
\addplot[black, line width=3.5bp] coordinates {(136,15.73) (1200,57.15)};
\addplot[black, line width=3.5bp] coordinates {(208.2,15.59) (1200,35.68)};
\addplot[black, line width=3.5bp] coordinates {(500.7,15.52) (1200,18.29)};
% global minimum
\addplot[only marks, mark=*, mark size=7.3pt, mark options={fill=dotred, draw=black, line width=3pt}] coordinates {(487,30.4)};
\node[rotate=67, align=center, font=\annfont] at (axis cs:268.3,45.2) {Excluded from\\calculations};
\node[anchor=base west, inner sep=0pt, font=\annfont] at (axis cs:546.5,29.0) {Global};
\node[anchor=base west, inner sep=0pt, font=\annfont] at (axis cs:546.5,24.6) {minimum.};
% title: Delta NLL with its scripts
\node[anchor=base west, inner sep=0pt, yshift=19.5bp] at (rel axis cs:0.005,1) {\fontsize{32.5}{32.5}\selectfont$\Delta NLL$};
\node[anchor=base west, inner sep=0pt, yshift=32.5bp] at (rel axis cs:0.28,1) {\fontsize{26}{26}\selectfont$m_A\;,\;\;\mu$};
\node[anchor=base west, inner sep=0pt, yshift=9bp] at (rel axis cs:0.28,1) {\fontsize{26}{26}\selectfont$\mathrm{t\,a\,n}\;\;\beta$};
\end{axis}
\end{tikzpicture}
\end{document}
